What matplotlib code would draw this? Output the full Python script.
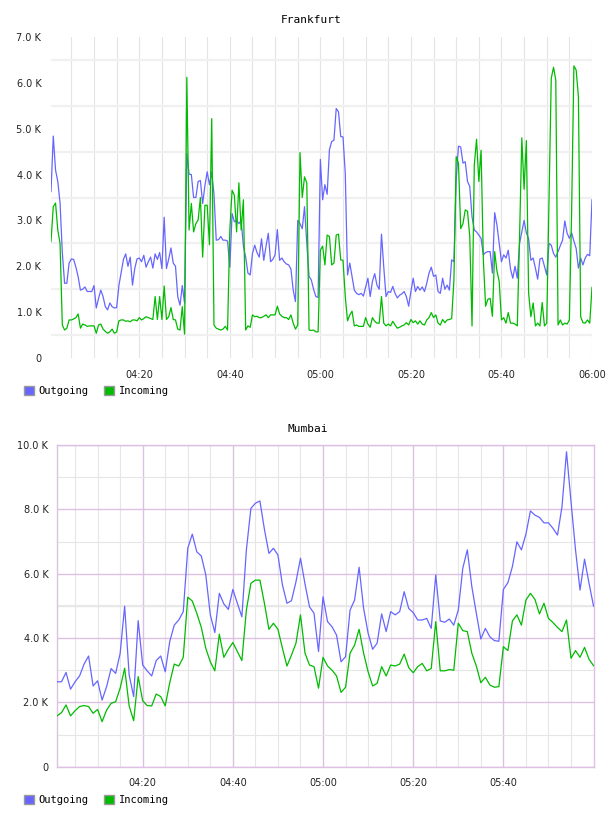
import numpy as np
import matplotlib
matplotlib.use('Agg')
import matplotlib.pyplot as plt
from matplotlib.patches import Patch
from matplotlib.ticker import FixedLocator, MultipleLocator, FuncFormatter

# Frankfurt: 30 s samples from 04:00:30 to 06:00, values in K
fra_outgoing = [
    3.63, 4.84, 4.1, 3.85, 3.38, 2.3, 1.63, 1.63, 2.07, 2.16, 2.15, 1.98, 1.77, 1.48, 1.5, 1.55, 1.45, 1.45, 1.45, 1.58,
    1.09, 1.3, 1.48, 1.34, 1.12, 1.05, 1.2, 1.12, 1.09, 1.1, 1.58, 1.86, 2.15, 2.27, 2.0, 2.2, 1.59, 1.95, 2.16, 2.18,
    2.1, 2.24, 1.98, 2.1, 2.2, 1.96, 2.27, 2.15, 2.3, 1.95, 3.07, 1.95, 2.16, 2.4, 2.07, 2.0, 1.34, 1.15, 1.58, 1.2,
    4.46, 4.01, 4.0, 3.5, 3.5, 3.85, 3.87, 3.37, 3.76, 4.06, 3.78, 4.06, 3.57, 2.57, 2.58, 2.65, 2.57, 2.57, 2.55, 1.98,
    3.15, 2.97, 3.0, 2.93, 3.0, 2.44, 2.2, 1.85, 1.81, 2.28, 2.46, 2.3, 2.2, 2.6, 2.13, 2.44, 2.72, 2.1, 2.15, 2.25,
    2.8, 2.13, 2.18, 2.1, 2.05, 2.03, 1.94, 1.48, 1.23, 3.0, 2.93, 2.82, 3.3, 2.5, 1.78, 1.7, 1.5, 1.34, 1.32, 4.33,
    3.45, 3.78, 3.57, 4.54, 4.72, 4.75, 5.44, 5.37, 4.83, 4.82, 4.03, 1.81, 2.07, 1.78, 1.48, 1.41, 1.38, 1.41, 1.35, 1.55,
    1.74, 1.34, 1.67, 1.84, 1.59, 1.5, 2.7, 1.99, 1.34, 1.45, 1.43, 1.56, 1.41, 1.31, 1.37, 1.4, 1.45, 1.34, 1.13, 1.45,
    1.74, 1.45, 1.56, 1.48, 1.55, 1.45, 1.63, 1.85, 1.98, 1.78, 1.81, 1.45, 1.41, 1.74, 1.5, 1.59, 1.48, 2.14, 2.1, 3.88,
    4.62, 4.6, 4.25, 4.28, 3.85, 3.74, 3.08, 2.79, 2.75, 2.68, 2.61, 2.25, 2.3, 2.32, 2.32, 1.85, 3.17, 2.9, 2.5, 2.1,
    2.25, 2.18, 2.35, 1.94, 1.74, 2.0, 1.74, 2.5, 2.75, 3.0, 2.73, 2.6, 2.13, 2.18, 1.96, 1.72, 2.16, 2.18, 2.0, 1.81,
    2.5, 2.46, 2.28, 2.2, 2.32, 2.45, 2.57, 2.99, 2.72, 2.61, 2.73, 2.55, 2.39, 1.96, 2.18, 2.03, 2.18, 2.26, 2.23, 3.45,
]
fra_incoming = [
    2.54, 3.3, 3.38, 2.79, 2.5, 0.72, 0.61, 0.65, 0.83, 0.83, 0.85, 0.88, 0.96, 0.65, 0.74, 0.72, 0.69, 0.7, 0.7, 0.7,
    0.54, 0.72, 0.74, 0.63, 0.58, 0.54, 0.57, 0.63, 0.54, 0.57, 0.81, 0.83, 0.83, 0.8, 0.81, 0.79, 0.83, 0.83, 0.81, 0.88,
    0.83, 0.86, 0.9, 0.88, 0.86, 0.84, 1.34, 0.84, 1.34, 0.84, 1.57, 0.84, 0.9, 1.1, 0.84, 0.83, 0.63, 0.61, 1.12, 0.52,
    6.12, 2.79, 3.37, 2.75, 2.93, 3.01, 3.5, 2.2, 3.33, 3.33, 2.47, 5.22, 0.72, 0.65, 0.63, 0.61, 0.63, 0.69, 0.61, 2.79,
    3.66, 3.55, 2.75, 3.82, 2.79, 3.45, 0.61, 0.7, 0.67, 0.94, 0.9, 0.91, 0.88, 0.88, 0.91, 0.94, 0.88, 0.94, 0.94, 0.94,
    1.13, 0.96, 0.91, 0.88, 0.88, 0.84, 0.94, 0.76, 0.63, 0.72, 4.48, 3.5, 3.95, 3.82, 0.61, 0.6, 0.61, 0.57, 0.57, 2.35,
    2.44, 2.03, 2.68, 2.65, 2.03, 2.07, 2.68, 2.7, 2.14, 2.13, 1.34, 0.81, 0.94, 1.02, 0.7, 0.72, 0.69, 0.69, 0.69, 0.88,
    0.74, 0.67, 0.88, 0.8, 0.76, 0.76, 1.34, 0.76, 0.7, 0.74, 0.7, 0.8, 0.72, 0.65, 0.67, 0.7, 0.72, 0.77, 0.72, 0.84,
    0.77, 0.81, 0.74, 0.81, 0.74, 0.72, 0.83, 0.88, 0.99, 0.88, 0.94, 0.76, 0.72, 0.84, 0.77, 0.83, 0.84, 0.86, 1.7, 4.39,
    4.25, 2.82, 2.93, 3.23, 3.2, 2.65, 0.7, 4.21, 4.77, 3.85, 4.53, 2.14, 1.13, 1.28, 1.3, 0.91, 2.32, 1.9, 1.67, 0.83,
    0.88, 0.76, 0.99, 0.76, 0.76, 0.74, 0.7, 2.65, 4.8, 3.68, 4.74, 1.41, 0.9, 1.2, 0.7, 0.76, 0.7, 1.21, 0.7, 0.76,
    3.48, 6.1, 6.34, 6.06, 0.72, 0.83, 0.72, 0.76, 0.74, 0.83, 3.2, 6.37, 6.28, 5.7, 0.9, 0.77, 0.76, 0.83, 0.76, 1.54,
]

# Mumbai: 1 min samples from 04:01 to 06:00, values in K
mum_outgoing = [
    2.64, 2.64, 2.93, 2.41, 2.64, 2.82, 3.19, 3.44, 2.51, 2.67, 2.07, 2.49, 3.05, 2.9, 3.52, 4.99, 2.85, 2.18, 4.54, 3.16,
    2.98, 2.82, 3.3, 3.44, 2.95, 3.89, 4.4, 4.56, 4.82, 6.79, 7.23, 6.68, 6.55, 5.96, 4.72, 4.17, 5.39, 5.06, 4.89, 5.51,
    5.08, 4.66, 6.74, 8.03, 8.19, 8.26, 7.38, 6.63, 6.79, 6.58, 5.65, 5.08, 5.16, 5.75, 6.48, 5.68, 4.97, 4.77, 3.58, 5.28,
    4.51, 4.35, 4.09, 3.26, 3.42, 4.87, 5.18, 6.2, 4.92, 4.15, 3.65, 3.84, 4.75, 4.2, 4.82, 4.72, 4.82, 5.44, 4.92, 4.79,
    4.56, 4.56, 4.61, 4.3, 5.96, 4.53, 4.49, 4.59, 4.4, 4.87, 6.17, 6.74, 5.6, 4.77, 3.97, 4.3, 4.04, 3.92, 3.9, 5.51,
    5.72, 6.22, 6.99, 6.74, 7.23, 7.95, 7.82, 7.75, 7.58, 7.58, 7.41, 7.2, 8.08, 9.79, 8.24, 6.74, 5.49, 6.45, 5.7, 4.99,
]
mum_incoming = [
    1.58, 1.68, 1.92, 1.58, 1.74, 1.87, 1.9, 1.87, 1.66, 1.78, 1.4, 1.76, 1.97, 2.02, 2.44, 3.06, 1.89, 1.43, 2.8, 2.05,
    1.9, 1.89, 2.26, 2.18, 1.89, 2.61, 3.19, 3.13, 3.4, 5.27, 5.15, 4.77, 4.33, 3.68, 3.26, 2.98, 4.12, 3.4, 3.65, 3.86,
    3.58, 3.3, 4.87, 5.7, 5.8, 5.8, 5.08, 4.27, 4.46, 4.27, 3.68, 3.13, 3.47, 3.84, 4.72, 3.53, 3.16, 3.11, 2.44, 3.4,
    3.13, 3.0, 2.82, 2.31, 2.47, 3.53, 3.78, 4.27, 3.53, 2.95, 2.51, 2.59, 3.11, 2.82, 3.16, 3.13, 3.19, 3.5, 3.08, 2.92,
    3.11, 3.21, 2.98, 3.05, 4.51, 2.98, 2.98, 3.02, 3.0, 4.46, 4.23, 4.2, 3.53, 3.13, 2.61, 2.78, 2.54, 2.47, 2.49, 3.73,
    3.61, 4.53, 4.72, 4.4, 5.18, 5.39, 5.2, 4.75, 5.08, 4.61, 4.48, 4.33, 4.2, 4.56, 3.37, 3.61, 3.4, 3.71, 3.34, 3.14,
]
mum_time_labels = [20, 40, 60, 80, 100]

BLUE = '#6666ff'
GREEN = '#00bb00'
PURPLE = '#ddc0e4'
MINOR = '#e6e6e6'
MONO = 'DejaVu Sans Mono'


def minutes_label(m, pos=None):
    m = int(round(m))
    return f"{4 + m // 60:02d}:{m % 60:02d}"


def k_label(v, pos=None):
    if v == 0:
        return "0"
    return f"{v / 1000:.1f} K"


def add_legend(fig, y):
    handles = [Patch(facecolor=BLUE, edgecolor='#999999', linewidth=1.0, label='Outgoing'),
               Patch(facecolor=GREEN, edgecolor='#999999', linewidth=1.0, label='Incoming')]
    fig.legend(handles=handles, loc='upper left', bbox_to_anchor=(0.039, y), ncol=2, frameon=False,
               handlelength=1.0, handleheight=1.0, handletextpad=0.4, columnspacing=1.5,
               borderpad=0, borderaxespad=0, prop={'family': MONO, 'size': 7.5})


fig = plt.figure(figsize=(6.08, 8.16), dpi=100)
fig.patch.set_facecolor('white')

# ---- Frankfurt
ax1 = fig.add_axes([51 / 608, 1 - 358 / 816, 541 / 608, 321 / 816])
t1 = np.arange(1, len(fra_outgoing) + 1) * 0.5
ax1.plot(t1, np.array(fra_outgoing) * 1000, color=BLUE, lw=0.9, zorder=3)
ax1.plot(t1, np.array(fra_incoming) * 1000, color=GREEN, lw=0.9, zorder=4)
ax1.set_xlim(0.5, 120)
ax1.set_ylim(0, 7000)
ax1.xaxis.set_major_locator(MultipleLocator(20))
ax1.xaxis.set_minor_locator(MultipleLocator(5))
ax1.xaxis.set_major_formatter(FuncFormatter(minutes_label))
ax1.yaxis.set_major_locator(MultipleLocator(1000))
ax1.yaxis.set_minor_locator(FixedLocator(np.arange(500, 7000, 1000)))
ax1.yaxis.set_major_formatter(FuncFormatter(k_label))
ax1.grid(axis='x', which='both', color='#e4e4e4', lw=0.8, zorder=0)
ax1.grid(axis='y', which='minor', color='#f0f0f0', lw=1.6, zorder=0)
ax1.grid(axis='y', which='major', visible=False)
for s in ax1.spines.values():
    s.set_visible(False)
ax1.tick_params(axis='both', which='both', length=0, labelsize=7, colors='#222222')
ax1.tick_params(axis='x', pad=9)
ax1.tick_params(axis='y', pad=7)
fig.text(0.511, 1 - 20 / 816, 'Frankfurt', ha='center', va='center', family=MONO, fontsize=8)
add_legend(fig, 1 - 386 / 816)

# ---- Mumbai
ax2 = fig.add_axes([56.7 / 608, 1 - 766.7 / 816, 537.3 / 608, 321.7 / 816])
t2 = np.arange(1, len(mum_outgoing) + 1)
ax2.plot(t2, np.array(mum_outgoing) * 1000, color=BLUE, lw=0.9, zorder=3)
ax2.plot(t2, np.array(mum_incoming) * 1000, color=GREEN, lw=0.9, zorder=4)
ax2.set_xlim(0.93, 120.1)
ax2.set_ylim(0, 10000)
ax2.xaxis.set_major_locator(FixedLocator(mum_time_labels))
ax2.xaxis.set_minor_locator(FixedLocator([m for m in range(5, 120, 5) if m % 20]))
ax2.xaxis.set_major_formatter(FuncFormatter(minutes_label))
ax2.yaxis.set_major_locator(MultipleLocator(2000))
ax2.yaxis.set_minor_locator(FixedLocator(range(1000, 10000, 2000)))
ax2.yaxis.set_major_formatter(FuncFormatter(k_label))
ax2.grid(which='minor', color=MINOR, lw=0.8)
ax2.grid(which='major', color=PURPLE, lw=1.0)
ax2.axhline(5000, color='#ebebeb', lw=1.6, zorder=0.5)
for s in ax2.spines.values():
    s.set_color(PURPLE)
    s.set_linewidth(1.0)
ax2.tick_params(axis='both', which='both', length=0, labelsize=7, colors='#222222')
ax2.tick_params(axis='x', pad=8)
ax2.tick_params(axis='y', pad=6)
fig.text(0.506, 1 - 429 / 816, 'Mumbai', ha='center', va='center', family=MONO, fontsize=8)
add_legend(fig, 1 - 795 / 816)

fig.savefig('out.png', dpi=100, facecolor='white')
